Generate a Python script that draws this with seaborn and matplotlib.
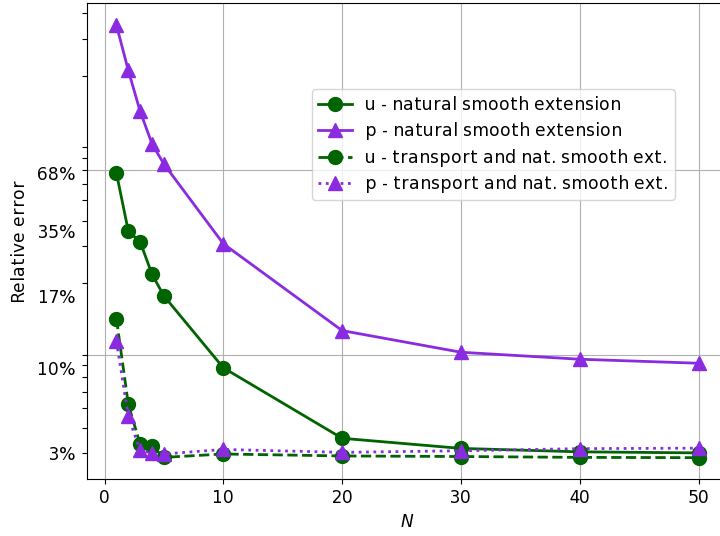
import matplotlib
matplotlib.use("Agg")
import matplotlib.pyplot as plt
from matplotlib.ticker import NullFormatter
import seaborn as sns

plt.rcParams.update({"font.size": 12, "font.family": ["DejaVu Sans"],
                     "text.hinting": "auto", "text.hinting_factor": 1})

# number of modes N
N = [1, 2, 3, 4, 5, 10, 20, 30, 40, 50]

# errors (log axis)
err_u_nat = [0.958, 0.466, 0.407, 0.272, 0.208, 0.0852, 0.0355, 0.0313, 0.0300, 0.0296]
err_p_nat = [6.03, 3.43, 2.06, 1.375, 1.071, 0.398, 0.1353, 0.1034, 0.0948, 0.0902]
err_u_tr = [0.1565, 0.0541, 0.0329, 0.0321, 0.0280, 0.0292, 0.0285, 0.0283, 0.0280, 0.0279]
err_p_tr = [0.1186, 0.0466, 0.0305, 0.0296, 0.0292, 0.0309, 0.0298, 0.0304, 0.0312, 0.0314]

# labelled y ticks (relative error of u at N = 1, 2, 5, 10, 50)
ytick_vals = [0.958, 0.466, 0.208, 0.0852, 0.0296]
ytick_labels = ["68%", "35%", "17%", "10%", "3%"]

# unlabelled tick marks on the y axis
ytick_marks = [6.97, 5.09, 3.22, 1.327, 1.151, 1.0, 0.84, 0.682, 0.53, 0.388,
               0.246, 0.1, 0.0883, 0.076, 0.0631, 0.0517, 0.0403, 0.0295]
grid_levels = [0.1, 1.0]

GREEN = "darkgreen"
PURPLE = "blueviolet"

series = [
    (err_u_nat, "u - natural smooth extension", GREEN, "o", "-"),
    (err_p_nat, "p - natural smooth extension", PURPLE, "^", "-"),
    (err_u_tr, "u - transport and nat. smooth ext.", GREEN, "o", "--"),
    (err_p_tr, "p - transport and nat. smooth ext.", PURPLE, "^", ":"),
]

fig = plt.figure(figsize=(7.2, 5.36), dpi=100)
ax = fig.add_axes([0.1213, 0.1058, 0.8893, 0.8878])
ax.set_yscale("log")

for vals, label, color, marker, ls in series:
    sns.lineplot(x=N, y=vals, ax=ax, color=color, marker=marker, linestyle=ls,
                 markersize=10, markeredgecolor=color, markeredgewidth=1.0,
                 linewidth=2, label=label)

ax.grid(True, axis="x", color="#b0b0b0", linewidth=0.8)
for lvl in grid_levels:
    ax.axhline(lvl, color="#b0b0b0", linewidth=0.8, zorder=0.5)
ax.set_axisbelow(True)

ax.set_yticks(ytick_vals, labels=ytick_labels)
ax.set_yticks(ytick_marks, minor=True)
ax.yaxis.set_minor_formatter(NullFormatter())
ax.tick_params(axis="y", which="major", length=0, pad=8)
ax.tick_params(axis="y", which="minor", length=3.5, width=0.8)

ax.set_xlabel("$N$")
ax.set_ylabel("Relative error", labelpad=6)

ax.legend(loc="upper left", bbox_to_anchor=(0.3505, 0.8195), borderaxespad=0)

fig.savefig("out.png", dpi=100)
plt.close(fig)
